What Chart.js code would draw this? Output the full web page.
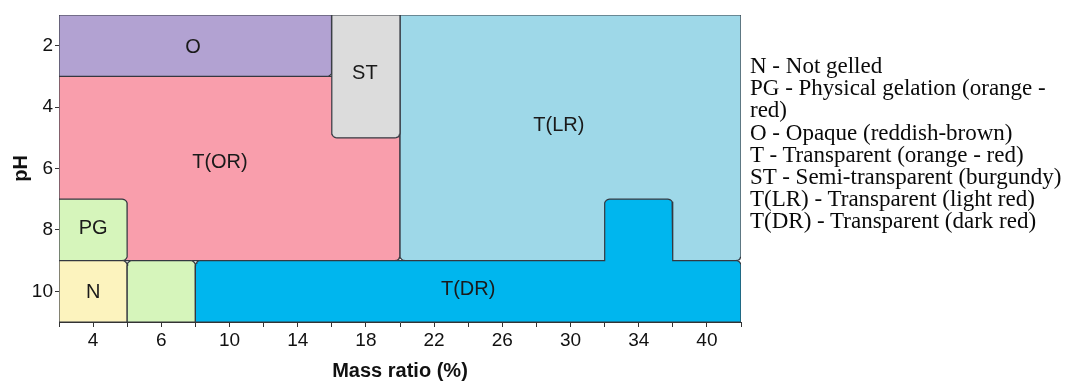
<!DOCTYPE html>
<html>
<head>
<meta charset="utf-8">
<script src="https://cdn.jsdelivr.net/npm/chart.js@4/dist/chart.umd.min.js"></script>
<style>
  html, body { margin: 0; padding: 0; background: #fff; }
  #wrap { position: relative; width: 1068px; height: 383px; }
  #key {
    position: absolute; left: 750px; top: 55px;
    font: 23px "Liberation Serif", "Times New Roman", serif;
    line-height: 22.2px; color: #0a0a0a; white-space: nowrap;
  }
</style>
</head>
<body>
<div id="wrap">
  <canvas id="phaseChart" width="1068" height="383"></canvas>
  <div id="key"></div>
</div>
<script>
// -------------------------------------------------------
// Phase map data: x in steps along the mass-ratio axis, y in pH
// -------------------------------------------------------

const massLabels = ['4', '6', '10', '14', '18', '22', '26', '30', '34', '40'];
const phTicks = [2, 4, 6, 8, 10];

const torShape   = [[0, 3], [10, 3], [10, 9], [0, 9]];
const tlrShape   = [[10, 1], [20, 1], [20, 9], [10, 9]];
const oShape     = [[0, 1], [8, 1], [8, 3], [0, 3]];
const stShape    = [[8, 1], [10, 1], [10, 5], [8, 5]];
const pgShape    = [[0, 7], [2, 7], [2, 9], [0, 9]];
const nShape     = [[0, 9], [2, 9], [2, 11], [0, 11]];
const pgLowShape = [[2, 9], [4, 9], [4, 11], [2, 11]];
const tdrShape   = [[4, 9], [16, 9], [16, 7], [18, 7], [18, 9], [20, 9], [20, 11], [4, 11]];

const regionLabels = ['O', 'ST', 'T(OR)', 'T(LR)', 'PG', 'N', 'T(DR)'];
const labelX = [3.93, 8.97, 4.72, 14.66, 1, 1, 12];
const labelY = [2.07, 2.92, 5.8, 4.6, 7.97, 10.05, 9.95];

const keyLines = [
  'N - Not gelled',
  'PG - Physical gelation (orange -',
  'red)',
  'O - Opaque (reddish-brown)',
  'T - Transparent (orange - red)',
  'ST - Semi-transparent (burgundy)',
  'T(LR) - Transparent (light red)',
  'T(DR) - Transparent (dark red)'
];

document.getElementById('key').innerHTML = keyLines.join('<br>');

// -------------------------------------------------------
// Outline with small rounded inner corners
// -------------------------------------------------------

function outline(shape) {
  const rx = 0.15, ry = 0.16;
  let area = 0;
  shape.forEach((p, i) => {
    const q = shape[(i + 1) % shape.length];
    area += p[0] * q[1] - q[0] * p[1];
  });
  const pts = [];
  shape.forEach((p, i) => {
    const a = shape[(i - 1 + shape.length) % shape.length];
    const b = shape[(i + 1) % shape.length];
    const d1 = [Math.sign(p[0] - a[0]), Math.sign(p[1] - a[1])];
    const d2 = [Math.sign(b[0] - p[0]), Math.sign(b[1] - p[1])];
    const cross = d1[0] * d2[1] - d1[1] * d2[0];
    const convex = cross * area > 0;
    const edge = p[0] === 0 || p[1] === 1 || p[1] === 11;
    if (!convex || edge) {
      pts.push({x: p[0], y: p[1]});
      return;
    }
    const cx = p[0] - d1[0] * rx + d2[0] * rx;
    const cy = p[1] - d1[1] * ry + d2[1] * ry;
    for (let k = 0; k <= 6; k++) {
      const t = k / 6 * Math.PI / 2;
      pts.push({
        x: cx - d2[0] * rx * Math.cos(t) + d1[0] * rx * Math.sin(t),
        y: cy - d2[1] * ry * Math.cos(t) + d1[1] * ry * Math.sin(t)
      });
    }
  });
  pts.push(pts[0]);
  return pts;
}

function region(shape, color, order) {
  return {
    data: outline(shape),
    showLine: true,
    fill: 'shape',
    backgroundColor: color,
    borderColor: '#343840',
    borderWidth: 1.2,
    pointRadius: 0,
    order: order
  };
}

// -------------------------------------------------------
// Region names written inside the map
// -------------------------------------------------------

const regionText = {
  id: 'regionText',
  afterDatasetsDraw(chart) {
    const {ctx, scales: {x, y}} = chart;
    ctx.save();
    ctx.font = '20px "Liberation Sans", Arial, sans-serif';
    ctx.fillStyle = '#1a1a1a';
    ctx.textAlign = 'center';
    ctx.textBaseline = 'middle';
    regionLabels.forEach((t, i) => {
      ctx.fillText(t, x.getPixelForValue(labelX[i]), y.getPixelForValue(labelY[i]));
    });
    ctx.restore();
  }
};

// -------------------------------------------------------
// Chart
// -------------------------------------------------------

const axisFont = {family: '"Liberation Sans", Arial, sans-serif', size: 19};

new Chart(document.getElementById('phaseChart'), {
  type: 'scatter',
  data: {
    datasets: [
      region(tdrShape, '#00B6EE', 1),
      region(pgLowShape, '#D6F5BB', 1),
      region(nShape, '#FCF3BE', 1),
      region(pgShape, '#D6F5BB', 1),
      region(stShape, '#DCDCDC', 1),
      region(oShape, '#B2A2D2', 1),
      region(tlrShape, '#9ED8E8', 2),
      region(torShape, '#F99EAC', 2)
    ]
  },
  options: {
    responsive: false,
    animation: false,
    layout: {padding: {top: 15, right: 327, left: 0, bottom: 0}},
    plugins: {legend: {display: false}, tooltip: {enabled: false}},
    scales: {
      x: {
        type: 'linear',
        min: 0,
        max: 20,
        afterFit(s) { s.height = 61; },
        ticks: {
          stepSize: 1,
          autoSkip: false,
          maxRotation: 0,
          color: '#111',
          font: axisFont,
          padding: 2,
          callback: v => (v % 2 === 1 ? massLabels[(v - 1) / 2] : '')
        },
        grid: {drawOnChartArea: false, tickLength: 5, color: '#333'},
        border: {color: '#333'},
        title: {
          display: true,
          text: 'Mass ratio (%)',
          color: '#111',
          font: {family: axisFont.family, size: 20, weight: 'bold'},
          padding: {bottom: 0}
        }
      },
      y: {
        type: 'linear',
        min: 1,
        max: 11,
        reverse: true,
        afterFit(s) { s.width = 59; },
        afterBuildTicks(s) { s.ticks = phTicks.map(v => ({value: v})); },
        ticks: {color: '#111', font: axisFont, padding: 2},
        grid: {drawOnChartArea: false, tickLength: 4, color: '#333'},
        border: {color: '#333'},
        title: {
          display: true,
          text: 'pH',
          color: '#111',
          font: {family: axisFont.family, size: 20, weight: 'bold'},
          padding: {top: 9, bottom: 0}
        }
      }
    }
  },
  plugins: [regionText]
});
</script>
</body>
</html>
